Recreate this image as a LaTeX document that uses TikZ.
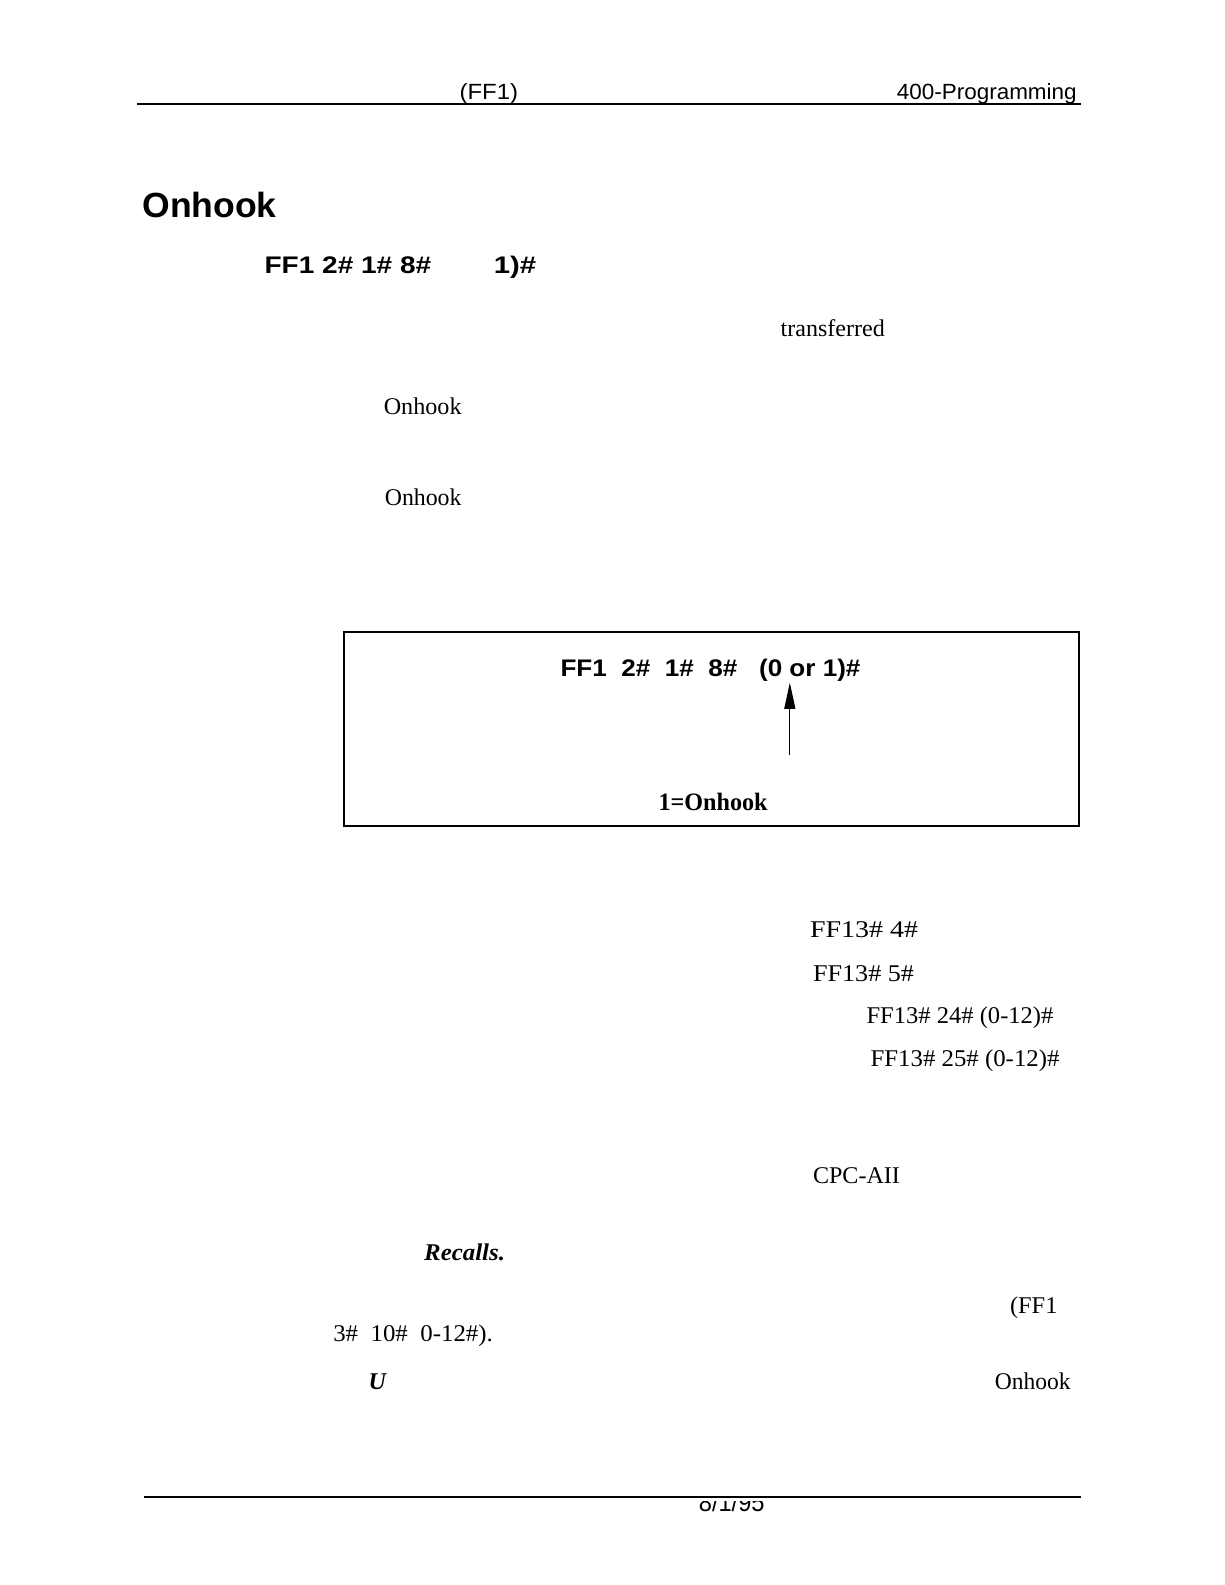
\documentclass[tikz,border=0pt]{standalone}
\usepackage{fontspec}
\usepackage{graphicx}
\setmainfont{Liberation Serif}
\setsansfont{Liberation Sans}
\usetikzlibrary{arrows.meta}
\newcommand{\fitw}[2]{\resizebox{1.01\dimexpr#1\relax}{\height}{#2}}
\tikzset{
  txt/.style={anchor=base west, inner sep=0pt, outer sep=0pt},
  ser/.style={txt, font=\fontsize{24}{26}\selectfont\rmfamily},
  hdr/.style={txt, font=\fontsize{22}{24}\selectfont\sffamily},
  bsans/.style={txt, font=\fontsize{24}{26}\selectfont\sffamily\bfseries},
  rule/.style={line width=2pt, line cap=butt},
}
\begin{document}
\begin{tikzpicture}[x=1pt, y=-1pt]
\useasboundingbox (0,0) rectangle (1225,1585);
\begin{scope}[x=1.01pt, y=-1.01pt]
% header
\coordinate (hl) at (136,103);
\coordinate (hr) at (1070,103);
\draw[rule] (hl) -- (hr);
\node[hdr] (hff) at (455,99) {\fitw{58pt}{(FF1)}};
\node[hdr] (hprog) at (888,99) {\fitw{178pt}{400-Programming}};
% title
\node[txt, font=\fontsize{35}{38}\selectfont\sffamily\bfseries] (title) at (141,215) {\fitw{133pt}{Onhook}};
\node[bsans] (cmd1) at (262,271) {\fitw{165pt}{FF1 2\# 1\# 8\#}};
\node[bsans] (cmd2) at (489,271) {\fitw{42pt}{1)\#}};
% body words
\node[ser] (trans) at (773,333) {\fitw{103pt}{transferred}};
\node[ser] (on1) at (380,410) {\fitw{77pt}{Onhook}};
\node[ser] (on2) at (381,500) {\fitw{76pt}{Onhook}};
% box
\node[draw, line width=2pt, anchor=north west, minimum width=735pt, minimum height=194pt, inner sep=0pt] (box) at (340,625) {};
\node[txt, font=\fontsize{24}{26}\selectfont\sffamily\bfseries] (bcmd) at (555,670) {\fitw{297pt}{FF1\ \ 2\#\ \ 1\#\ \ 8\#\ \ \ (0 or 1)\#}};
\node[txt, font=\fontsize{25}{27}\selectfont\rmfamily\bfseries] (lbl) at (652,802) {\fitw{108pt}{1=Onhook}};
\coordinate (atip) at (782,676);
\coordinate (abot) at (782,748);
\draw[line width=1pt, -{Triangle[length=26pt, width=11pt]}] (abot) -- (atip);
% right column
\node[ser] (r1) at (802,928) {\fitw{107pt}{FF13\# 4\#}};
\node[ser] (r2) at (805,972) {\fitw{100pt}{FF13\# 5\#}};
\node[ser] (r3) at (858,1013) {\fitw{185pt}{FF13\# 24\# (0-12)\#}};
\node[ser] (r4) at (862,1056) {\fitw{187pt}{FF13\# 25\# (0-12)\#}};
\node[ser] (cpc) at (805,1172) {\fitw{86pt}{CPC-AII}};
% lower
\node[ser, font=\fontsize{24}{26}\selectfont\rmfamily\itshape\bfseries] (rec) at (420,1248) {\fitw{80pt}{Recalls.}};
\node[ser] (ff1b) at (1000,1300) {\fitw{47pt}{(FF1}};
\node[ser] (s3) at (330,1328) {\fitw{158pt}{3\#\ \ 10\#\ \ 0-12\#).}};
\node[ser, font=\fontsize{24}{26}\selectfont\rmfamily\itshape\bfseries] (uu) at (365,1376) {U};
\node[ser] (on3) at (985,1376) {\fitw{75pt}{Onhook}};
% footer
\coordinate (fl) at (143,1482);
\coordinate (fr) at (1070,1482);
\draw[rule] (fl) -- (fr);
\begin{scope}
\clip (600,1487) rectangle (850,1520);
\node[txt, font=\fontsize{26}{28}\selectfont\sffamily] (date) at (692,1497) {\fitw{65pt}{8/1/95}};
\end{scope}
\end{scope}
\end{tikzpicture}
\end{document}
